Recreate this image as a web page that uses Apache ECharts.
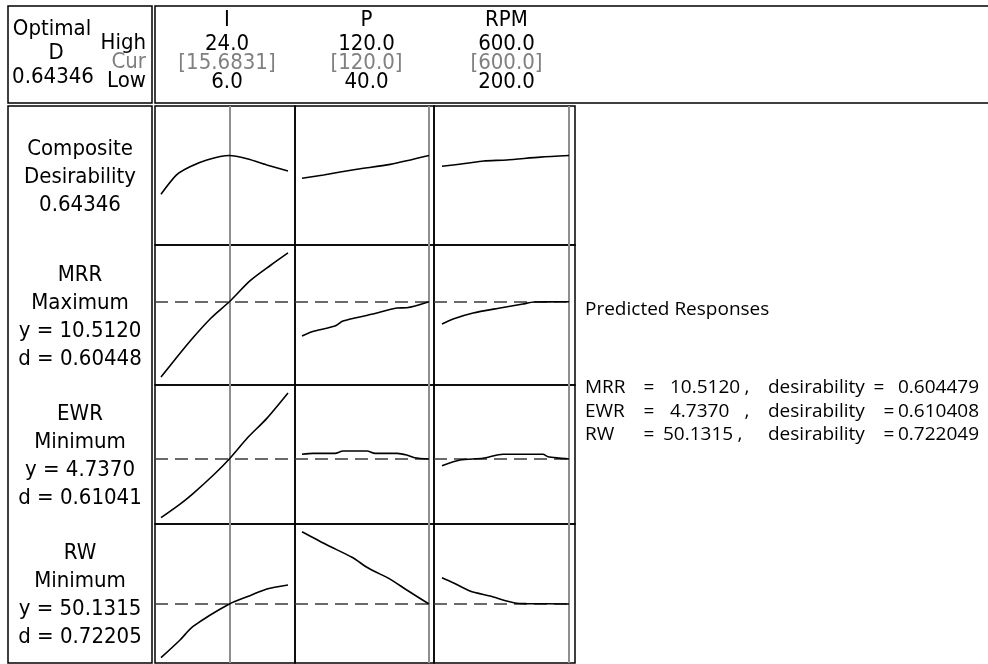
<!DOCTYPE html>
<html>
<head>
<meta charset="utf-8">
<script src="https://cdn.jsdelivr.net/npm/echarts@6/dist/echarts.min.js"></script>
<style>
  html, body { margin: 0; padding: 0; background: #fff; }
  #chart { width: 988px; height: 664px; }
</style>
</head>
<body>
<div id="chart"></div>
<script>
// factors (columns)
var factorNames = ['I', 'P', 'RPM'];
var factorLow = [6, 40, 200];
var factorHigh = [24, 120, 600];
var factorCur = [15.6831, 120, 600];
var headHigh = ['24.0', '120.0', '600.0'];
var headCur = ['[15.6831]', '[120.0]', '[600.0]'];
var headLow = ['6.0', '40.0', '200.0'];

// rows: composite + responses
var rowLabels = [
  ['Composite', 'Desirability', '0.64346'],
  ['MRR', 'Maximum', 'y = 10.5120', 'd = 0.60448'],
  ['EWR', 'Minimum', 'y = 4.7370', 'd = 0.61041'],
  ['RW', 'Minimum', 'y = 50.1315', 'd = 0.72205']
];
var rowMin = [0, 1, 0, 40];
var rowMax = [1, 17, 10.13, 63.87];
var respCur = [null, 10.512, 4.737, 50.1315];

// curves, [factor value, response]
var compI = [[6, 0.365], [8.2, 0.504], [10.1, 0.563], [12.5, 0.612], [15.6831, 0.64346], [18.2, 0.62], [21, 0.576], [24, 0.532]];
var compP = [[40, 0.48], [53.6, 0.504], [74.6, 0.545], [95.6, 0.58], [120, 0.64346]];
var compRPM = [[200, 0.566], [278, 0.588], [331, 0.604], [404, 0.612], [510, 0.632], [600, 0.64346]];

var mrrI = [[6, 1.91], [8.27, 4.2], [10.5, 6.37], [13.1, 8.66], [15.6831, 10.512], [18.6, 12.89], [21.4, 14.6], [24, 16.09]];
var mrrP = [[40, 6.6], [46.3, 7.09], [60.8, 7.74], [65.8, 8.31], [84.7, 9.11], [99.8, 9.8], [106, 9.83], [120, 10.512]];
var mrrRPM = [[200, 7.97], [235, 8.54], [298, 9.23], [383, 9.8], [455, 10.26], [490, 10.48], [540, 10.5], [600, 10.512]];

var ewrI = [[6, 0.46], [8.7, 1.45], [10.5, 2.2], [13.4, 3.55], [15.6831, 4.737], [18.3, 6.3], [21, 7.7], [24, 9.55]];
var ewrP = [[40, 5.08], [47, 5.15], [60.8, 5.15], [65.8, 5.32], [81, 5.32], [86, 5.15], [100, 5.15], [106, 5.03], [111, 4.83], [120, 4.737]];
var ewrRPM = [[200, 4.25], [257, 4.66], [329, 4.79], [392, 5.08], [518, 5.08], [534, 4.9], [570, 4.8], [600, 4.737]];

var rwI = [[6, 40.91], [8.7, 43.95], [10.5, 46.23], [15.6831, 50.1315], [18.6, 51.56], [21, 52.71], [24, 53.39]];
var rwP = [[40, 62.54], [55.8, 60.26], [71.5, 58.15], [82, 56.26], [95.7, 54.37], [106, 52.53], [120, 50.1315]];
var rwRPM = [[200, 54.65], [235, 53.79], [288, 52.36], [351, 51.5], [435, 50.25], [466, 50.2], [600, 50.1315]];

var curves = [
  [compI, compP, compRPM],
  [mrrI, mrrP, mrrRPM],
  [ewrI, ewrP, ewrRPM],
  [rwI, rwP, rwRPM]
];

// predicted responses text
var predNames = ['MRR', 'EWR', 'RW'];
var predValues = ['10.5120', '4.7370', '50.1315'];
var predDesir = ['0.604479', '0.610408', '0.722049'];

// layout
var rowTop = [106, 245, 385, 524];
var rowH = [139, 140, 139, 139];
var colLeft = [155, 295, 434];
var colW = [140, 139, 141];
var padL = [6, 7, 8];
var padR = [7, 5, 6];

var FONT = "'DejaVu Sans Condensed', 'DejaVu Sans', sans-serif";
var FONT2 = "'Open Sans', Lato, sans-serif";

var grids = [], xAxes = [], yAxes = [], series = [];
for (var r = 0; r < 4; r++) {
  for (var c = 0; c < 3; c++) {
    var idx = grids.length;
    grids.push({
      left: colLeft[c], top: rowTop[r], width: colW[c], height: rowH[r],
      show: true, borderColor: '#000', borderWidth: 1.5, backgroundColor: 'transparent'
    });
    var span = factorHigh[c] - factorLow[c];
    var dw = colW[c] - padL[c] - padR[c];
    xAxes.push({
      gridIndex: idx, type: 'value', show: false,
      min: factorLow[c] - padL[c] * span / dw,
      max: factorHigh[c] + padR[c] * span / dw
    });
    yAxes.push({ gridIndex: idx, type: 'value', show: false, min: rowMin[r], max: rowMax[r] });

    var ml = [{ xAxis: factorCur[c], lineStyle: { color: '#8f8f8f', width: 2, type: 'solid' } }];
    if (respCur[r] !== null) {
      ml.push({ yAxis: respCur[r], lineStyle: { color: '#3a3a3a', width: 1.5, type: [13, 7] } });
    }
    series.push({
      type: 'line', xAxisIndex: idx, yAxisIndex: idx,
      data: curves[r][c], showSymbol: false, smooth: 0.25,
      lineStyle: { color: '#000', width: 1.6 },
      z: 5,
      markLine: { silent: true, symbol: 'none', label: { show: false }, data: ml, z: 2 }
    });
  }
}

var graphics = [];
function box(x, y, w, h) {
  graphics.push({ type: 'rect', shape: { x: x, y: y, width: w, height: h },
    style: { fill: 'none', stroke: '#000', lineWidth: 1.5 }, silent: true });
}
function txt(s, x, y, align, color, font) {
  graphics.push({ type: 'text', x: x, y: y, silent: true,
    style: { text: s, textAlign: align || 'center', textVerticalAlign: 'middle',
      fill: color || '#000', font: font || ('22px ' + FONT) } });
}
box(8, 6, 144, 97);
box(155, 6, 840, 97);
box(8, 106, 144, 557);

// header left
txt('Optimal', 52, 29);
txt('D', 56, 53);
txt('0.64346', 53, 77);
txt('High', 146, 43, 'right');
txt('Cur', 146, 62, 'right', '#808080');
txt('Low', 146, 81, 'right');

// factor headers
for (var k = 0; k < 3; k++) {
  var cx = colLeft[k] + colW[k] / 2 + 2;
  txt(factorNames[k], cx, 20);
  txt(headHigh[k], cx, 44);
  txt(headCur[k], cx, 63, 'center', '#808080');
  txt(headLow[k], cx, 82);
}

// row labels
for (var r2 = 0; r2 < 4; r2++) {
  var lines = rowLabels[r2];
  var mid = rowTop[r2] + rowH[r2] / 2 + 2;
  for (var j = 0; j < lines.length; j++) {
    txt(lines[j], 80, mid + (j - (lines.length - 1) / 2) * 28);
  }
}

// predicted responses
var pf = '19px ' + FONT2;
txt('Predicted Responses', 585, 310, 'left', '#000', pf);
var eqX1 = [649, 649, 649];
var valX = [670, 670, 663];
var comX = [747, 747, 740];
var eqX2 = [879, 889, 889];
for (var p = 0; p < 3; p++) {
  var yy = 388 + p * 23.5;
  txt(predNames[p], 585, yy, 'left', '#000', pf);
  txt('=', eqX1[p], yy, 'center', '#000', pf);
  txt(predValues[p], valX[p], yy, 'left', '#000', pf);
  txt(',', comX[p], yy, 'center', '#000', pf);
  txt('desirability', 768, yy, 'left', '#000', pf);
  txt('=', eqX2[p], yy, 'center', '#000', pf);
  txt(predDesir[p], 898, yy, 'left', '#000', pf);
}

var chart = echarts.init(document.getElementById('chart'), null, { renderer: 'canvas' });
chart.setOption({
  animation: false,
  backgroundColor: '#fff',
  grid: grids,
  xAxis: xAxes,
  yAxis: yAxes,
  series: series,
  graphic: graphics
});
</script>
</body>
</html>
